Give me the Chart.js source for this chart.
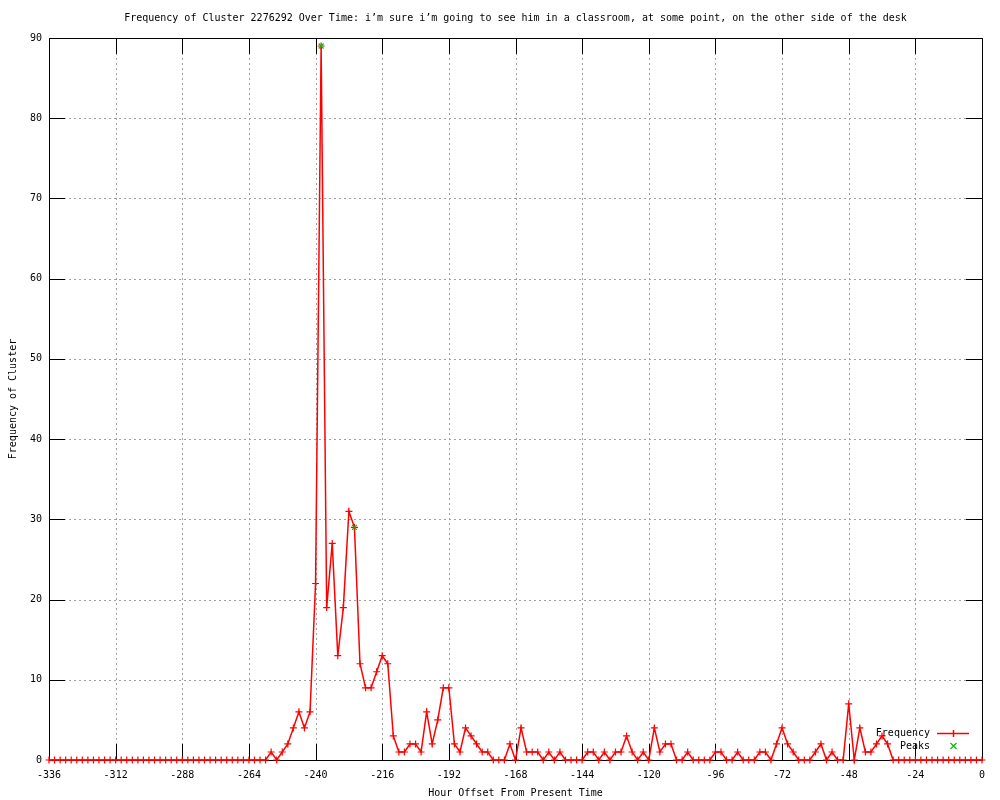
<!DOCTYPE html>
<html><head><meta charset="utf-8">
<script src="https://cdn.jsdelivr.net/npm/chart.js@4.4.1/dist/chart.umd.min.js"></script>
<style>html,body{margin:0;padding:0;background:#fff}#wrap{width:1000px;height:800px}</style>
</head><body><div id="wrap"><canvas id="c" width="1000" height="800"></canvas></div>
<script>
const titleText = "Frequency of Cluster 2276292 Over Time: i\u2019m sure i\u2019m going to see him in a classroom, at some point, on the other side of the desk";
const xTitle = "Hour Offset From Present Time";
const yTitle = "Frequency of Cluster";
const seriesNames = ["Frequency", "Peaks"];

const hours = [
  -336,-334,-332,-330,-328,-326,-324,-322,-320,-318,
  -316,-314,-312,-310,-308,-306,-304,-302,-300,-298,
  -296,-294,-292,-290,-288,-286,-284,-282,-280,-278,
  -276,-274,-272,-270,-268,-266,-264,-262,-260,-258,
  -256,-254,-252,-250,-248,-246,-244,-242,-240,-238,
  -236,-234,-232,-230,-228,-226,-224,-222,-220,-218,
  -216,-214,-212,-210,-208,-206,-204,-202,-200,-198,
  -196,-194,-192,-190,-188,-186,-184,-182,-180,-178,
  -176,-174,-172,-170,-168,-166,-164,-162,-160,-158,
  -156,-154,-152,-150,-148,-146,-144,-142,-140,-138,
  -136,-134,-132,-130,-128,-126,-124,-122,-120,-118,
  -116,-114,-112,-110,-108,-106,-104,-102,-100,-98,
  -96,-94,-92,-90,-88,-86,-84,-82,-80,-78,
  -76,-74,-72,-70,-68,-66,-64,-62,-60,-58,
  -56,-54,-52,-50,-48,-46,-44,-42,-40,-38,
  -36,-34,-32,-30,-28,-26,-24,-22,-20,-18,
  -16,-14,-12,-10,-8,-6,-4,-2,0
];
const freq = [
  0,0,0,0,0,0,0,0,0,0,
  0,0,0,0,0,0,0,0,0,0,
  0,0,0,0,0,0,0,0,0,0,
  0,0,0,0,0,0,0,0,0,0,
  1,0,1,2,4,6,4,6,22,89,
  19,27,13,19,31,29,12,9,9,11,
  13,12,3,1,1,2,2,1,6,2,
  5,9,9,2,1,4,3,2,1,1,
  0,0,0,2,0,4,1,1,1,0,
  1,0,1,0,0,0,0,1,1,0,
  1,0,1,1,3,1,0,1,0,4,
  1,2,2,0,0,1,0,0,0,0,
  1,1,0,0,1,0,0,0,1,1,
  0,2,4,2,1,0,0,0,1,2,
  0,1,0,0,7,0,4,1,1,2,
  3,2,0,0,0,0,0,0,0,0,
  0,0,0,0,0,0,0,0,0
];
const peakHours = [-238, -226];
const peakValues = [89, 29];
const xTicks = [-336,-312,-288,-264,-240,-216,-192,-168,-144,-120,-96,-72,-48,-24,0];
const yTicks = [0,10,20,30,40,50,60,70,80,90];

const FONT = "DejaVu Sans Mono";
const RED = "#ff0000";
const GREEN = "#00c000";

const framePlugin = {
  id: 'frame',
  beforeDraw(chart) {
    const ctx = chart.ctx;
    ctx.save();
    ctx.fillStyle = '#fff';
    ctx.fillRect(0, 0, chart.width, chart.height);
    ctx.restore();
  },
  beforeDatasetsDraw(chart) {
    const ctx = chart.ctx, a = chart.chartArea;
    const xs = chart.scales.x, ys = chart.scales.y;
    ctx.save();
    ctx.strokeStyle = '#a0a0a0';
    ctx.lineWidth = 1;
    ctx.setLineDash([2, 3]);
    xTicks.forEach(v => {
      const px = Math.round(xs.getPixelForValue(v)) + 0.5;
      ctx.beginPath(); ctx.moveTo(px, a.top); ctx.lineTo(px, a.bottom); ctx.stroke();
    });
    yTicks.forEach(v => {
      const py = Math.round(ys.getPixelForValue(v)) + 0.5;
      ctx.beginPath(); ctx.moveTo(a.left, py); ctx.lineTo(a.right, py); ctx.stroke();
    });
    ctx.setLineDash([]);
    ctx.strokeStyle = '#000';
    const L = 16;
    xTicks.forEach(v => {
      const px = Math.round(xs.getPixelForValue(v)) + 0.5;
      ctx.beginPath();
      ctx.moveTo(px, a.bottom); ctx.lineTo(px, a.bottom - L);
      ctx.moveTo(px, a.top); ctx.lineTo(px, a.top + L);
      ctx.stroke();
    });
    yTicks.forEach(v => {
      const py = Math.round(ys.getPixelForValue(v)) + 0.5;
      ctx.beginPath();
      ctx.moveTo(a.left, py); ctx.lineTo(a.left + L, py);
      ctx.moveTo(a.right, py); ctx.lineTo(a.right - L, py);
      ctx.stroke();
    });
    ctx.strokeRect(Math.round(a.left) + 0.5, Math.round(a.top) + 0.5,
                   Math.round(a.right - a.left), Math.round(a.bottom - a.top));
    ctx.restore();
  },
  afterDraw(chart) {
    const ctx = chart.ctx, a = chart.chartArea;
    ctx.save();
    ctx.fillStyle = '#000';
    ctx.font = '10px "' + FONT + '"';
    ctx.textBaseline = 'middle';
    ctx.textAlign = 'center';
    const cx = (a.left + a.right) / 2;
    ctx.fillText(titleText, cx, 18);
    ctx.fillText(xTitle, cx, 793);
    ctx.save();
    ctx.translate(13, (a.top + a.bottom) / 2);
    ctx.rotate(-Math.PI / 2);
    ctx.fillText(yTitle, 0, 0);
    ctx.restore();
    // key
    ctx.textAlign = 'right';
    ctx.fillText(seriesNames[0], 930, 733);
    ctx.fillText(seriesNames[1], 930, 746);
    ctx.strokeStyle = RED; ctx.lineWidth = 1.5;
    ctx.beginPath(); ctx.moveTo(937, 733.5); ctx.lineTo(969, 733.5);
    ctx.moveTo(953.5, 730); ctx.lineTo(953.5, 737); ctx.stroke();
    ctx.strokeStyle = GREEN; ctx.lineWidth = 1.2;
    ctx.beginPath();
    ctx.moveTo(950.5, 743); ctx.lineTo(956.5, 749);
    ctx.moveTo(956.5, 743); ctx.lineTo(950.5, 749); ctx.stroke();
    ctx.restore();
  }
};

new Chart(document.getElementById('c'), {
  type: 'line',
  data: {
    datasets: [
      {
        label: seriesNames[0],
        data: hours.map((h, i) => ({ x: h, y: freq[i] })),
        borderColor: RED, backgroundColor: RED, borderWidth: 1.5,
        pointStyle: 'cross', pointRadius: 3.5, pointBorderWidth: 1.2,
        pointBorderColor: RED, pointBackgroundColor: RED,
        tension: 0, clip: false, order: 2
      },
      {
        label: seriesNames[1],
        data: peakHours.map((h, i) => ({ x: h, y: peakValues[i] })),
        showLine: false, borderColor: GREEN, backgroundColor: GREEN,
        pointBorderColor: GREEN,
        pointStyle: 'crossRot', pointRadius: 3.5, pointBorderWidth: 1.2,
        clip: false, order: 1
      }
    ]
  },
  options: {
    responsive: false, animation: false, devicePixelRatio: 1,
    layout: { padding: { left: 0, right: 18, top: 38, bottom: 0 } },
    plugins: { legend: { display: false }, title: { display: false }, tooltip: { enabled: false } },
    scales: {
      x: {
        type: 'linear', min: -336, max: 0,
        afterBuildTicks: s => { s.ticks = xTicks.map(v => ({ value: v })); },
        afterFit: s => { s.height = 40; },
        grid: { display: false, drawTicks: false }, border: { display: false },
        ticks: { color: '#000', font: { family: FONT, size: 10 }, padding: 9, maxRotation: 0, autoSkip: false }
      },
      y: {
        type: 'linear', min: 0, max: 90,
        afterBuildTicks: s => { s.ticks = yTicks.map(v => ({ value: v })); },
        afterFit: s => { s.width = 49; },
        grid: { display: false, drawTicks: false }, border: { display: false },
        ticks: { color: '#000', font: { family: FONT, size: 10 }, padding: 7, autoSkip: false }
      }
    }
  },
  plugins: [framePlugin]
});
</script></body></html>
